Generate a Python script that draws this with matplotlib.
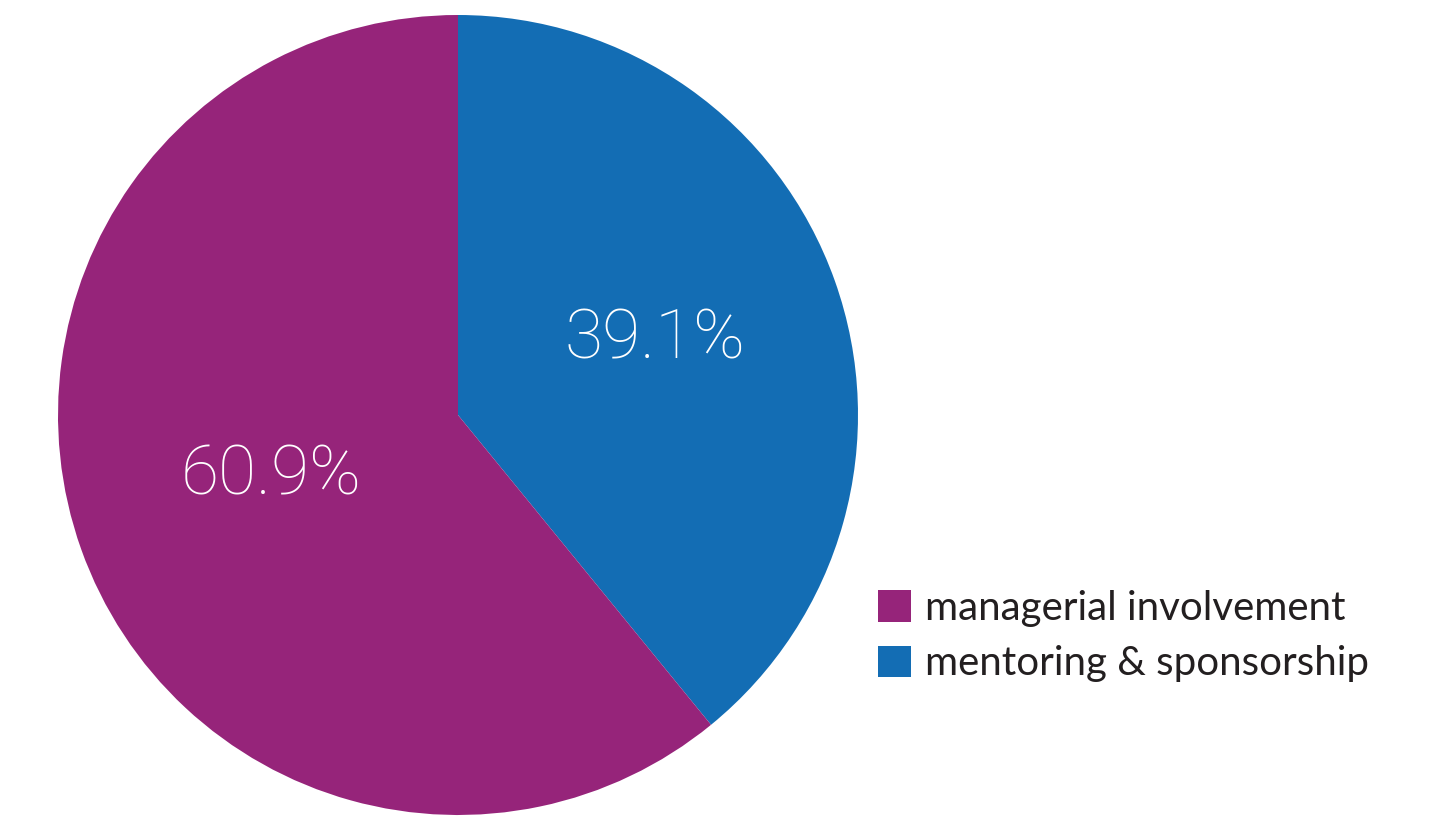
import matplotlib
matplotlib.use('Agg')
import matplotlib.pyplot as plt


# slice colours
my_purple = '#96247A'
my_blue   = '#136DB4'
text_grey = '#231F20'

# data, in drawing order (clockwise from 12 o'clock)
labels = ['mentoring & sponsorship', 'managerial involvement']
values = [39.1, 60.9]
colors = [my_blue, my_purple]


fig = plt.figure(figsize=(14.29, 8.16), dpi=100)
ax = fig.add_axes([0, 0, 1, 1])

wedges, texts, autotexts = ax.pie(
    values, colors=colors, startangle=90, counterclock=False,
    center=(458, 401), radius=400, autopct='%.1f%%', pctdistance=0.515,
    wedgeprops=dict(linewidth=0), frame=True,
    textprops=dict(color='white', fontsize=50, family='Roboto',
                   fontweight='light'))

# nudge the percentage labels a little
shifts = [(3, 6), (7, 8)]
for t, (dx, dy) in zip(autotexts, shifts):
    x, y = t.get_position()
    t.set_position((x + dx, y + dy))

ax.set_xlim(0, 1429)
ax.set_ylim(0, 816)
ax.set_aspect('equal')
ax.axis('off')

# legend: managerial first, mentoring second
leg = ax.legend([wedges[1], wedges[0]], [labels[1], labels[0]],
                loc='upper left', bbox_to_anchor=(862 / 1429, 1 - 574 / 816),
                frameon=False, prop=dict(family='Lato', size=29),
                handlelength=0.82, handleheight=0.82, handletextpad=0.35,
                labelspacing=0.45, borderaxespad=0)
for t in leg.get_texts():
    t.set_color(text_grey)

fig.savefig('out.png', dpi=100)
plt.close()
